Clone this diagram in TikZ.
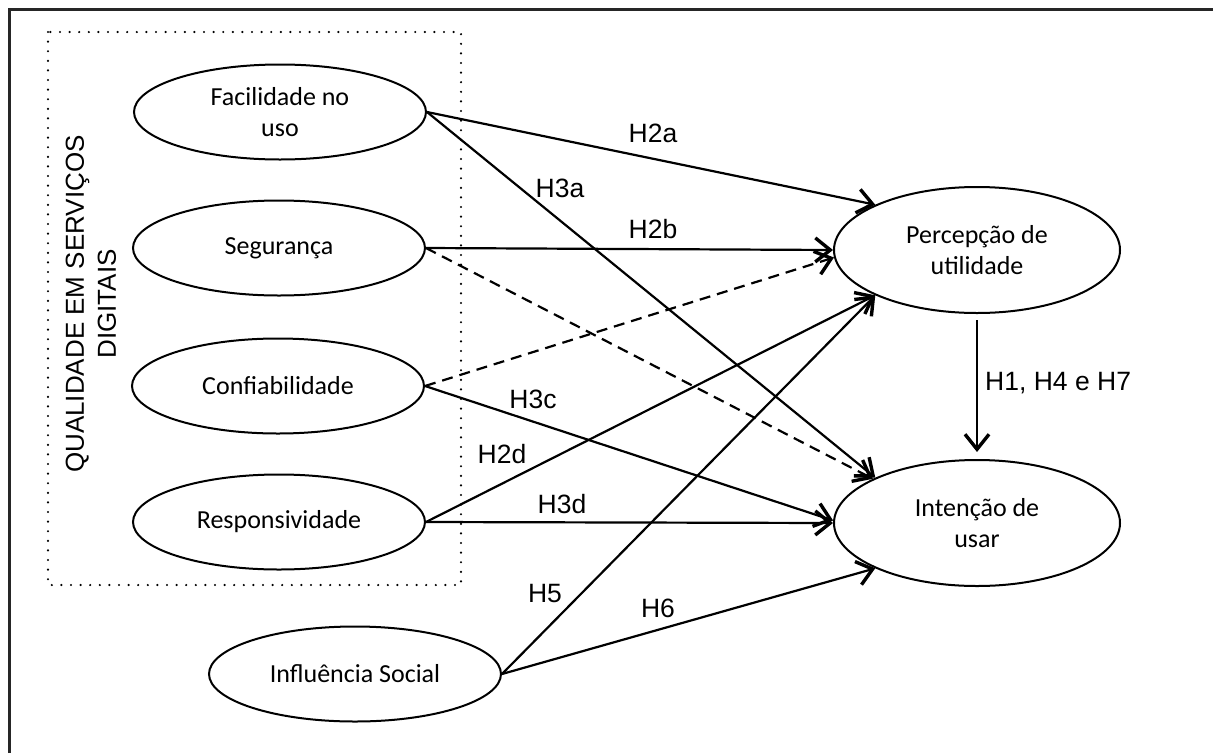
\documentclass[tikz,border=0pt]{standalone}
\usepackage{fontspec}
\setmainfont{Carlito}
\newfontfamily\labfont{Liberation Sans}
\usetikzlibrary{arrows.meta,shapes.geometric}
\begin{document}
\begin{tikzpicture}[x=1pt,y=-1pt,
  ell/.style={ellipse,draw,line width=2pt,inner sep=0pt,minimum width=292pt,minimum height=95pt,align=center,font=\fontsize{26}{31}\selectfont},
  bigell/.style={ell,minimum width=286pt,minimum height=126pt},
  arr/.style={line width=2.2pt,-{Straight Barb[length=15pt,width=24pt,line width=3.4pt]}},
  dsh/.style={arr,dash pattern=on 11pt off 7pt},
  lab/.style={font=\labfont\fontsize{26.5}{31}\selectfont,inner sep=0pt,anchor=base},
]
\useasboundingbox (0,0) rectangle (1213,753);
% outer frame (only left and top edges visible)
\draw[line width=3pt,black!85] (9,753) -- (9,9) -- (1213,9);
% dotted group
\draw[line width=2.4pt,dash pattern=on 0pt off 9.6pt,line cap=round] (48,32) rectangle (461,585);
\node[rotate=90,align=center,inner sep=0pt,font=\labfont\fontsize{26}{32}\selectfont] (qual) at (91,304) {QUALIDADE EM SERVIÇOS\\DIGITAIS};

% constructs
\node[ell] (fac) at (280,112) {Facilidade no\\uso};
\node[ell] (seg) at (279,248) {Segurança};
\node[ell] (conf) at (278,386) {Confiabilidade};
\node[ell] (resp) at (279,522) {Responsividade};
\node[ell] (soc) at (355,674) {Influência Social};
\node[bigell] (perc) at (977,250) {Percepção de\\utilidade};
\node[bigell] (int) at (977,523) {Intenção de\\usar};

% connectors
\draw[arr] (fac.east) -- (perc.156);
\draw[arr] (fac.east) -- (int.156);
\draw[arr] (seg.east) -- (perc.west);
\draw[dsh] (seg.east) -- (int.157);
\draw[dsh] (conf.east) -- (perc.183);
\draw[arr] (conf.east) -- (int.179);
\draw[arr] (resp.east) -- (perc.204);
\draw[arr] (resp.east) -- (int.west);
\draw[arr] (soc.east) -- (perc.204);
\draw[arr] (soc.east) -- (int.204);
\draw[arr,shorten <=6pt,shorten >=7pt] (perc.south) -- (int.north);

% labels
\node[lab] (l2a) at (653,142) {H2a};
\node[lab] (l3a) at (560,197) {H3a};
\node[lab] (l2b) at (653,238) {H2b};
\node[lab] (l3c) at (533,408) {H3c};
\node[lab] (l2d) at (502,463) {H2d};
\node[lab] (l3d) at (562,513) {H3d};
\node[lab] (l5) at (545,602) {H5};
\node[lab] (l6) at (658,617) {H6};
\node[lab,anchor=base west] (l147) at (985,390) {H1, H4 e H7};
\end{tikzpicture}
\end{document}
